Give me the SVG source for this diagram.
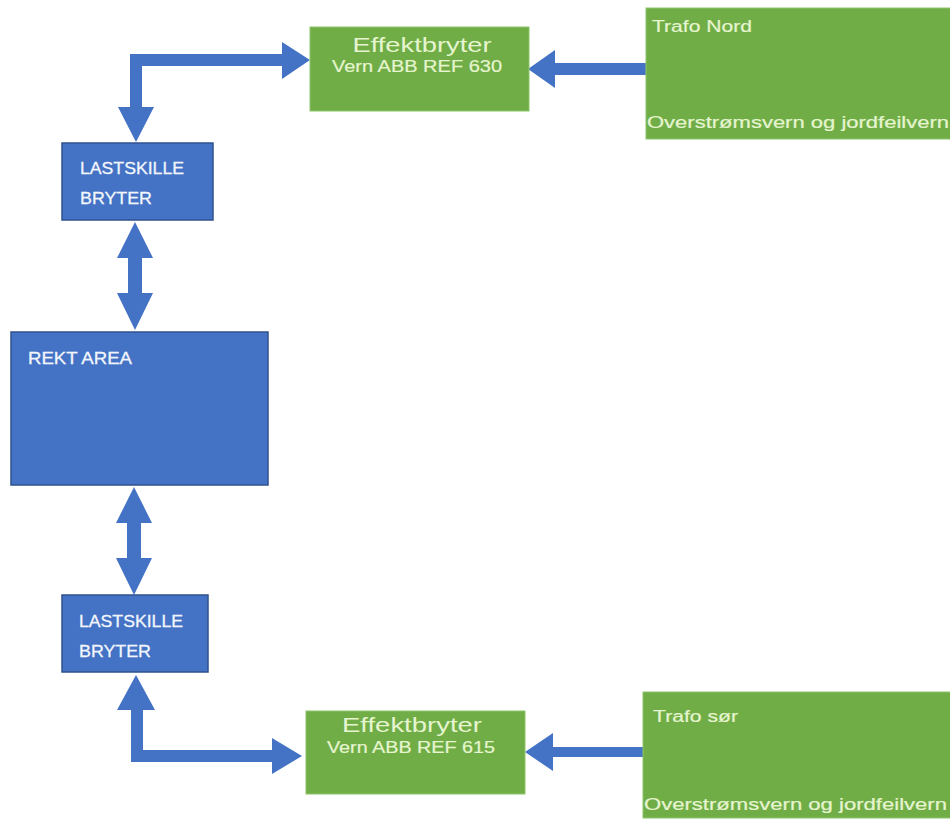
<svg xmlns="http://www.w3.org/2000/svg" width="950" height="820" viewBox="0 0 950 820">
<style>
.blue{fill:#4472C4;stroke:#2F528F;stroke-width:1.5}
.green{fill:#70AD47;stroke:#8DC46A;stroke-width:1}
.conn{fill:#4472C4;stroke:none}
.tw{fill:#F2F6FC;font-family:"Liberation Sans",Arial,sans-serif;font-size:17px;stroke:#F2F6FC;stroke-width:0.3}
.tg{fill:#E6F5CF;font-family:"Liberation Sans",Arial,sans-serif;font-size:16px;stroke:#E6F5CF;stroke-width:0.2}
.tgl{fill:#E6F5CF;font-family:"Liberation Sans",Arial,sans-serif;font-size:21px}
</style>
<rect width="950" height="820" fill="#ffffff"/>
<g id="connectors">
<polygon class="conn" points="130,107 130,54 282,54 282,42 310,60 282,79 282,66 142,66 142,107 154,107 136,142 118,107"/>
<polygon class="conn" points="646,63 555,63 555,50 528,69 555,88 555,75 646,75"/>
<polygon class="conn" points="135,222 153,258 142,258 142,293 153,293 135,330 117,293 128,293 128,258 117,258"/>
<polygon class="conn" points="134,487 152,523 141,523 141,558 152,558 134,595 116,558 127,558 127,523 116,523"/>
<polygon class="conn" points="136,675 155,710 143,710 143,750 272,750 272,738 302,756 272,774 272,762 131,762 131,710 117,710"/>
<polygon class="conn" points="643,747 553,747 553,733 525,752 553,771 553,757 643,757"/>
</g>
<g id="effekt-top">
<rect class="green" x="310" y="27" width="219" height="84"/>
<text class="tgl" x="422" y="52" text-anchor="middle" textLength="139" lengthAdjust="spacingAndGlyphs">Effektbryter</text>
<text class="tg" x="417" y="72" text-anchor="middle" textLength="170" lengthAdjust="spacingAndGlyphs">Vern ABB REF 630</text>
</g>
<g id="trafo-nord">
<rect class="green" x="646" y="8" width="310" height="131"/>
<text class="tg" x="652" y="32" textLength="100" lengthAdjust="spacingAndGlyphs">Trafo Nord</text>
<text class="tg" x="647" y="128" textLength="302" lengthAdjust="spacingAndGlyphs">Overstrømsvern og jordfeilvern</text>
</g>
<g id="lastskille-top">
<rect class="blue" x="62" y="143" width="151" height="77"/>
<text class="tw" x="80" y="174" textLength="104" lengthAdjust="spacingAndGlyphs">LASTSKILLE</text>
<text class="tw" x="80" y="204" textLength="72" lengthAdjust="spacingAndGlyphs">BRYTER</text>
</g>
<g id="rekt-area">
<rect class="blue" x="11" y="332" width="257" height="153"/>
<text class="tw" x="28" y="364" textLength="104" lengthAdjust="spacingAndGlyphs">REKT AREA</text>
</g>
<g id="lastskille-bottom">
<rect class="blue" x="62" y="595" width="146" height="77"/>
<text class="tw" x="79" y="627" textLength="104" lengthAdjust="spacingAndGlyphs">LASTSKILLE</text>
<text class="tw" x="79" y="657" textLength="72" lengthAdjust="spacingAndGlyphs">BRYTER</text>
</g>
<g id="effekt-bottom">
<rect class="green" x="306" y="711" width="219" height="83"/>
<text class="tgl" x="412" y="732" text-anchor="middle" textLength="140" lengthAdjust="spacingAndGlyphs">Effektbryter</text>
<text class="tg" x="411" y="753" text-anchor="middle" textLength="168" lengthAdjust="spacingAndGlyphs">Vern ABB REF 615</text>
</g>
<g id="trafo-sor">
<rect class="green" x="643" y="692" width="312" height="126"/>
<text class="tg" x="653" y="722" textLength="85" lengthAdjust="spacingAndGlyphs">Trafo sør</text>
<text class="tg" x="644" y="810" textLength="303" lengthAdjust="spacingAndGlyphs">Overstrømsvern og jordfeilvern</text>
</g>
</svg>
